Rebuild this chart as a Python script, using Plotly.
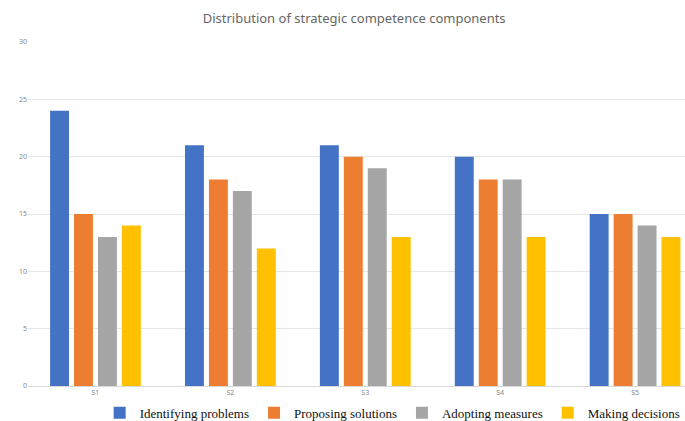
import plotly.graph_objects as go

categories = ["S1", "S2", "S3", "S4", "S5"]
identifying = [24, 21, 21, 20, 15]
proposing = [15, 18, 20, 18, 15]
adopting = [13, 17, 19, 18, 14]
making = [14, 12, 13, 13, 13]
series_names = ["Identifying problems", "Proposing solutions", "Adopting measures", "Making decisions"]
colors = ["#4472C4", "#ED7D31", "#A5A5A5", "#FFC000"]
y_ticks = [0, 5, 10, 15, 20, 25, 30]

fig = go.Figure()
for name, vals, col in zip(series_names, [identifying, proposing, adopting, making], colors):
    fig.add_trace(go.Bar(x=categories, y=vals, name=name, marker_color=col,
                         marker_line_width=0))

fig.update_layout(
    width=685, height=421,
    margin=dict(l=28, r=0, t=42, b=35, autoexpand=False),
    paper_bgcolor="white", plot_bgcolor="white",
    barmode="group", bargap=0.29, bargroupgap=0.21,
    title=dict(text="Distribution of strategic competence components",
               x=0.517, xanchor="center", y=0.957, yanchor="middle",
               font=dict(family="Noto Sans", size=13, color="#666666")),
    showlegend=True,
    legend=dict(orientation="h", x=0.555, xanchor="center", y=-0.078, yanchor="middle",
                font=dict(family="Liberation Serif", size=13, color="#111111"),
                bgcolor="rgba(0,0,0,0)",
                itemwidth=30, traceorder="normal", tracegroupgap=0),
)
fig.update_xaxes(range=[-0.5, 4.37], showgrid=False, showline=True, linecolor="#d9d9d9",
                 tickfont=dict(family="Noto Sans", size=7, color="#888888"), ticks="")
fig.update_yaxes(range=[0, 30], tickvals=y_ticks, showgrid=True, gridcolor="#e6e6e6",
                 zeroline=False, tickfont=dict(family="Noto Sans", size=7, color="#888888"),
                 ticks="")

fig.write_html("out.html")
